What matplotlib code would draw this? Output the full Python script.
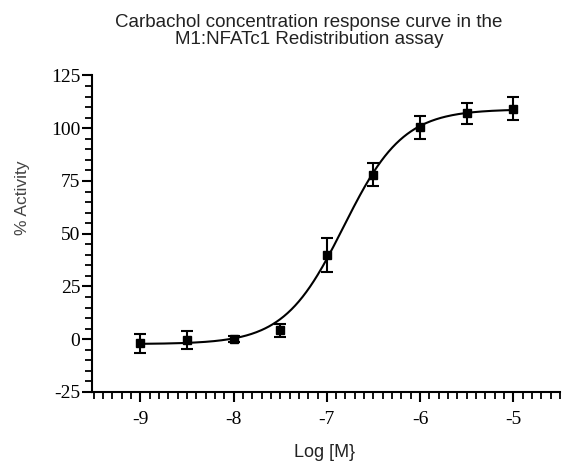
import matplotlib
matplotlib.use("Agg")
import matplotlib.pyplot as plt
from matplotlib.ticker import MultipleLocator
import numpy as np

plt.rcParams["axes.unicode_minus"] = False

# data
log_conc = [-9.0, -8.5, -8.0, -7.5, -7.0, -6.5, -6.0, -5.5, -5.0]
activity = [-1.8, -0.5, 0.0, 4.2, 40.0, 78.0, 100.5, 107.0, 109.3]
sem = [4.5, 4.3, 1.5, 3.0, 8.0, 5.6, 5.5, 5.0, 5.6]

# four-parameter logistic fit (values estimated from the drawn curve)
fit_bottom = -2.3
fit_top = 109.0
fit_log_ec50 = -6.82
fit_hill = 1.36

title = "Carbachol concentration response curve in the\nM1:NFATc1 Redistribution assay"
x_label = "Log [M}"
y_label = "% Activity"

sans = ["Liberation Sans", "DejaVu Sans"]
serif = ["Liberation Serif", "DejaVu Serif"]

fig = plt.figure(figsize=(5.63, 4.61), dpi=100)
ax = fig.add_axes([0.1634, 0.1497, 0.831, 0.6866])

xs = np.linspace(log_conc[0], log_conc[-1], 300)
ys = fit_bottom + (fit_top - fit_bottom) / (1 + 10 ** ((fit_log_ec50 - xs) * fit_hill))
ax.plot(xs, ys, color="black", lw=1.5)

ax.errorbar(log_conc, activity, yerr=sem, fmt="s", color="black",
            ms=6, capsize=4, elinewidth=1.5, capthick=1.5)

ax.set_xlim(-9.52, -4.5)
ax.set_ylim(-25, 125)
ax.xaxis.set_major_locator(MultipleLocator(1))
ax.xaxis.set_minor_locator(MultipleLocator(0.1))
ax.yaxis.set_major_locator(MultipleLocator(25))
ax.yaxis.set_minor_locator(MultipleLocator(5))

for side in ("top", "right"):
    ax.spines[side].set_visible(False)
for side in ("left", "bottom"):
    ax.spines[side].set_linewidth(1.5)

ax.tick_params(which="major", length=7, width=1.5, direction="out", pad=1.5,
               labelsize=14, labelfontfamily=serif[0])
ax.tick_params(which="minor", length=5, width=1.3, direction="out")
ax.tick_params(axis="x", pad=7)

fig.text(309 / 563, 1 - 31 / 461, title, ha="center", va="center",
         family=sans, fontsize=13.5, linespacing=0.95, color="#222222")
fig.text(325 / 563, 1 - 452 / 461, x_label, ha="center", va="center",
         family=sans, fontsize=13, color="#222222")
fig.text(22 / 563, 1 - 198 / 461, y_label, ha="center", va="center",
         rotation=90, family=sans, fontsize=12.5, color="#444444")

fig.savefig("out.png", dpi=100)
